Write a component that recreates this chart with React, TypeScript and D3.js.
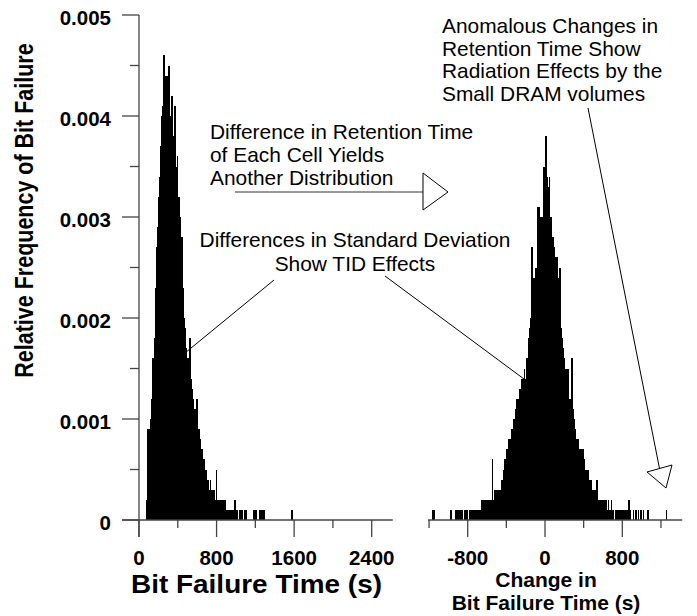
import React from 'react';
import * as d3 from 'd3';

// ---------------- DATA ----------------
// Left histogram: bit failure time (s), bins of 10 s starting at 70 s.
// Values are relative frequency in units of 0.0001.
const leftBinStart = 70;
const leftBinWidth = 10;
const leftCounts = [
  2, 9, 9, 9, 10, 12, 16, 16, 18, 20,
  23, 27, 29, 32, 34, 37, 40, 41, 46, 44,
  42, 44, 43, 45, 40, 39, 42, 37, 38, 41,
  41, 35, 36, 32, 32, 30, 28, 28, 23, 20,
  19, 17, 16, 16, 15, 18, 14, 13, 12, 11,
  11, 10, 12, 9, 9, 8, 7, 7, 6, 6,
  5, 5, 5, 4, 4, 3, 4, 3, 3, 3,
  3, 2, 5, 2, 2, 2, 2, 2, 2, 1,
  2, 2, 1, 1, 1, 1, 1, 1, 1, 1,
  1, 2, 1, 1, 1, 0, 1, 1, 1, 1,
  0, 1, 1, 1, 0, 0, 0, 0, 0, 0,
  0, 1, 1, 1, 0, 0, 0, 1, 0, 1,
  1, 1, 0, 0, 0, 0, 0, 0, 0, 0,
  0, 0, 0, 0, 0, 0, 0, 0, 0, 0,
  0, 0, 0, 0, 0, 0, 0, 0, 0, 0,
  1,
];

// Right histogram: change in bit failure time (s), bins of 10 s starting at -1200 s.
const rightBinStart = -1200;
const rightBinWidth = 10;
const rightCounts = [
  0, 0, 0, 1, 0, 1, 0, 0, 0, 0, 0, 0, 0, 0, 0,
  0, 0,
  0, 0, 0, 0, 0, 1, 0, 0, 0, 0, 1, 1, 0, 1, 1, 0, 1, 1, 0, 1, 1, 1, 1, 0, 1, 1, 1, 1,
  1, 1,
  1, 1, 1, 1, 1, 1, 1, 2, 2, 1, 2, 2, 2, 2, 2, 2, 2, 2, 6, 2, 3, 3, 3, 3, 3, 3, 3,
  4, 4,
  4, 5, 6, 6, 7, 7, 8, 8, 8, 9, 9, 10, 10, 11, 12, 12, 12, 13, 13, 14, 14, 14, 15, 14, 16, 16, 18, 19,
  20, 20,
  27, 22, 24, 23, 25, 24, 31, 31, 30, 30, 30, 29, 35, 32, 38, 33, 34, 33, 34, 30, 30, 28, 28, 27, 26, 26, 26, 24,
  25, 25,
  19, 18, 17, 16, 15, 15, 14, 15, 12, 12, 11, 16, 11, 10, 9, 8, 8, 8, 8, 7, 7, 7, 7, 7, 6, 5, 5,
  5, 5,
  4, 4, 4, 3, 3, 3, 3, 3, 4, 2, 2, 2, 2, 2, 2, 1, 2, 1, 2, 1, 2, 1, 1, 2, 1, 1, 0, 1,
  1, 1,
  1, 1, 0, 1, 0, 1, 1, 0, 1, 1, 0, 2, 1, 0, 0, 0, 1, 0, 1, 1, 0, 1, 0, 1, 1, 0, 1, 0,
  0, 0,
  0, 1, 0, 0, 0, 0, 0, 0, 0, 0, 0, 0, 0, 0, 0, 0, 0, 0, 0, 0, 1,
];
const countUnit = 0.0001;

const yTicks = [0, 0.001, 0.002, 0.003, 0.004, 0.005];
const yTickLabels = ['0', '0.001', '0.002', '0.003', '0.004', '0.005'];
const yMinorTicks = [0.0005, 0.0015, 0.0025, 0.0035, 0.0045];
const leftXTicks = [0, 800, 1600, 2400];
const leftXMinorTicks = [400, 1200, 2000];
const rightXTicks = [-800, 0, 800];
const rightXMinorTicks = [-1200, -400, 400, 1200];

const yTitle = 'Relative Frequency of Bit Failure';
const leftXTitle = 'Bit Failure Time (s)';
const rightXTitle = ['Change in', 'Bit Failure Time (s)'];
const note1 = ['Difference in Retention Time', 'of Each Cell Yields', 'Another Distribution'];
const note2 = ['Differences in Standard Deviation', 'Show TID Effects'];
const note3 = ['Anomalous Changes in', 'Retention Time Show', 'Radiation Effects by the', 'Small DRAM volumes'];

// ---------------- CHART ----------------
const FONT = '"Liberation Sans", Arial, Helvetica, sans-serif';
const AX = '#444';

export default function App() {
  const W = 697;
  const H = 616;
  const y = d3.scaleLinear().domain([0, 0.005]).range([520, 15]);
  const xL = d3.scaleLinear().domain([0, 2400]).range([139, 371.7]);
  const xR = d3.scaleLinear().domain([-800, 800]).range([467.7, 622.3]);
  const y0 = y(0);

  const bars = (counts: number[], start: number, bw: number, x: d3.ScaleLinear<number, number>) =>
    counts.map((c, i) => {
      if (c <= 0) return null;
      const x0 = x(start + i * bw);
      const x1 = x(start + (i + 1) * bw);
      const top = y(c * countUnit);
      return (
        <rect key={i} x={x0} y={top} width={Math.max(x1 - x0 + 0.6, 1)} height={y0 - top} fill="#000" />
      );
    });

  const text = (s: string, x: number, yy: number, size: number, weight: string, anchor: string, key?: any, len?: number) => (
    <text
      key={key ?? s}
      x={x}
      y={yy}
      fontSize={size}
      fontWeight={weight}
      textAnchor={anchor}
      fontFamily={FONT}
      fill="#000"
      {...(len ? { textLength: len, lengthAdjust: 'spacingAndGlyphs' } : {})}
    >
      {s}
    </text>
  );

  return (
    <svg width={W} height={H} style={{ position: 'absolute', left: 0, top: 0, background: '#fff' }}>
      <rect x={0} y={0} width={W} height={H} fill="#fff" />
      {/* histograms */}
      <g shapeRendering="crispEdges">{bars(leftCounts, leftBinStart, leftBinWidth, xL)}</g>
      <g shapeRendering="crispEdges">{bars(rightCounts, rightBinStart, rightBinWidth, xR)}</g>

      {/* left y axis */}
      <line x1={xL(0)} x2={xL(0)} y1={y(0.005)} y2={y0 + 17} stroke={AX} strokeWidth={1.3} />
      {yTicks.map((t) => (
        <line key={'yt' + t} x1={xL(0) - 17} x2={xL(0)} y1={y(t)} y2={y(t)} stroke={AX} strokeWidth={1.3} />
      ))}
      {yMinorTicks.map((t) => (
        <line key={'ym' + t} x1={xL(0) - 9} x2={xL(0)} y1={y(t)} y2={y(t)} stroke={AX} strokeWidth={1.3} />
      ))}
      {yTicks.map((t, i) => text(yTickLabels[i], 111, y(t) + 9.5, 20.5, 'bold', 'end', 'yl' + i))}

      {/* left x axis */}
      <line x1={xL(0) - 17} x2={xL(2618)} y1={y0} y2={y0} stroke={AX} strokeWidth={1.3} />
      {leftXTicks.map((t) => (
        <line key={'lxt' + t} x1={xL(t)} x2={xL(t)} y1={y0} y2={y0 + 17} stroke={AX} strokeWidth={1.3} />
      ))}
      {leftXMinorTicks.map((t) => (
        <line key={'lxm' + t} x1={xL(t)} x2={xL(t)} y1={y0} y2={y0 + 8} stroke={AX} strokeWidth={1.3} />
      ))}
      {leftXTicks.map((t) => text(String(t), xL(t), 565, 20.5, 'bold', 'middle', 'lxl' + t))}
      {text(leftXTitle, 256.5, 593, 26, 'bold', 'middle', 'lxtitle', 251)}

      {/* right x axis */}
      <line x1={xR(-1210)} x2={xR(1420)} y1={y0} y2={y0} stroke={AX} strokeWidth={1.3} />
      {rightXTicks.map((t) => (
        <line key={'rxt' + t} x1={xR(t)} x2={xR(t)} y1={y0} y2={y0 + 17} stroke={AX} strokeWidth={1.3} />
      ))}
      {rightXMinorTicks.map((t) => (
        <line key={'rxm' + t} x1={xR(t)} x2={xR(t)} y1={y0} y2={y0 + 8} stroke={AX} strokeWidth={1.3} />
      ))}
      {rightXTicks.map((t) => text(String(t), xR(t), 565, 20.5, 'bold', 'middle', 'rxl' + t))}
      {text(rightXTitle[0], 546, 587, 21, 'bold', 'middle', 'rt0')}
      {text(rightXTitle[1], 546, 610, 21, 'bold', 'middle', 'rt1')}

      {/* y title */}
      <text
        transform="translate(33,210.5) scale(1.2,1) rotate(-90)"
        textAnchor="middle"
        fontSize={21.5}
        fontWeight="bold"
        fontFamily={FONT}
        fill="#000"
      >
        {yTitle}
      </text>

      {/* annotations */}
      {note1.map((s, i) => text(s, 210, 139 + i * 23, 20.9, 'normal', 'start', 'n1' + i))}
      {note2.map((s, i) => text(s, 355, 247 + i * 24, 20.9, 'normal', 'middle', 'n2' + i))}
      {note3.map((s, i) => text(s, 442, 33 + i * 22.7, 20.9, 'normal', 'start', 'n3' + i))}

      {/* arrows and leaders */}
      <line x1={235} x2={423} y1={192} y2={192} stroke="#333" strokeWidth={1} />
      <polygon points="423,173 448,192 423,210" fill="#fff" stroke="#000" strokeWidth={1} />
      <line x1={274} y1={280} x2={185} y2={353} stroke="#000" strokeWidth={1} />
      <line x1={385} y1={276} x2={524} y2={379} stroke="#000" strokeWidth={1} />
      <line x1={588} y1={108} x2={659.5} y2={468.5} stroke="#000" strokeWidth={1} />
      <polygon points="647,472 672,465 666,488" fill="#fff" stroke="#000" strokeWidth={1} />
    </svg>
  );
}
